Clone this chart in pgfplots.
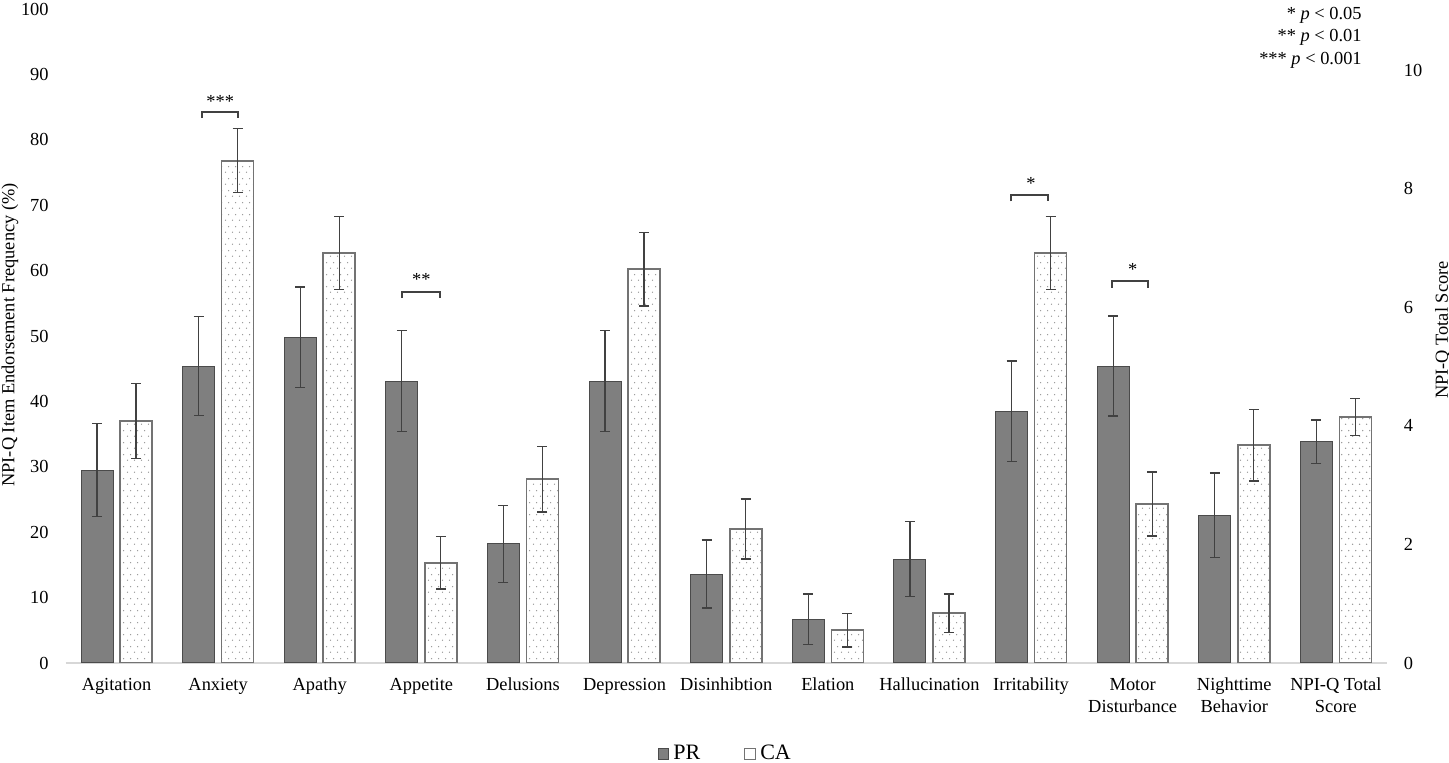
\documentclass[border=0pt]{standalone}
\usepackage{fontspec}
\setmainfont{Liberation Serif}
\usepackage{pgfplots}
\usepackage{pgfplotstable}
\pgfplotsset{compat=1.18}
\usetikzlibrary{patterns.meta}

\definecolor{prfill}{RGB}{127,127,127}
\definecolor{prdraw}{RGB}{75,75,75}
\definecolor{cadraw}{RGB}{115,115,115}
\definecolor{errc}{RGB}{65,65,65}
\definecolor{axisgray}{RGB}{215,215,215}

\tikzdeclarepattern{
  name=sparsedots,
  type=uncolored,
  bounding box={(0,0) and (3.5pt,6pt)},
  tile size={(3.5pt,6pt)},
  code={
    \fill (0.9pt,1.5pt) circle (0.38pt);
    \fill (2.65pt,4.5pt) circle (0.38pt);
  }
}

% item endorsement (%), symmetric error
\pgfplotstableread{
x  pr   prerr  ca   caerr
0  29.5 7.1    37.0 5.7
1  45.4 7.6    76.8 4.9
2  49.8 7.7    62.7 5.6
3  43.1 7.7    15.3 4.0
4  18.2 5.9    28.1 5.0
5  43.1 7.7    60.2 5.6
6  13.6 5.2    20.5 4.6
7  6.7  3.85   5.0  2.55
8  15.9 5.75   7.6  2.95
9  38.5 7.65   62.7 5.6
10 45.4 7.65   24.3 4.9
11 22.6 6.45   33.3 5.5
}\items

% total score, right axis
\pgfplotstableread{
x  pr   prerr  ca   caerr
12 3.73 0.37   4.15 0.31
}\total

\pgfplotsset{
  bothaxes/.style={
    at={(0,0)}, anchor=south west,
    scale only axis, width=660.5pt, height=327pt,
    xmin=-0.5, xmax=12.5, ymin=0,
    ybar, bar width=16pt,
    major tick length=0pt, tick style={draw=none},
    y axis line style={draw=none},
    /pgf/number format/assume math mode=true,
    error bars/y dir=both, error bars/y explicit,
    error bars/error bar style={draw=errc, line width=0.6pt},
    error bars/error mark=-,
    error bars/error mark options={rotate=90, draw=errc, line width=0.7pt, mark size=2.5pt},
  },
  prbar/.style={fill=prfill, draw=prdraw, line width=0.5pt, bar shift=-9.75pt},
  cabar/.style={pattern={sparsedots}, pattern color=gray!85, draw=cadraw, line width=0.8pt, bar shift=9.75pt},
}

\begin{document}
\begin{tikzpicture}[font=\fontsize{9.2}{11}\selectfont]
\useasboundingbox (-32.85pt,-50pt) rectangle (691.65pt,331.5pt);
\begin{axis}[
  bothaxes,
  ymax=100,
  axis x line*=bottom, axis y line*=left,
  x axis line style={draw=axisgray, line width=1pt, -},
  xtick={0,...,12},
  xticklabels={Agitation,Anxiety,Apathy,Appetite,Delusions,Depression,Disinhibtion,Elation,Hallucination,Irritability,Motor\\Disturbance,Nighttime\\Behavior,NPI-Q Total\\Score},
  xticklabel style={align=center, yshift=-4pt},
  ytick={0,10,...,100},
  yticklabel style={xshift=-5pt},
  ylabel={NPI-Q Item Endorsement Frequency (\%)},
  ylabel style={at={(axis description cs:-0.0422,0.5015)}, anchor=center},
  legend columns=2,
  legend style={at={(0.5,-0.139)}, anchor=center, draw=none, fill=none,
    font=\fontsize{11}{13}\selectfont,
    /tikz/every even column/.append style={column sep=20pt}},
]
\addplot[prbar, legend image code/.code={\draw[fill=prfill,draw=prdraw,line width=0.5pt] (0pt,-2.7pt) rectangle (5.4pt,2.7pt);}]
  table[x=x, y=pr, y error=prerr] {\items};
\addplot[cabar, legend image code/.code={\draw[fill=white,draw=cadraw,line width=0.6pt] (0pt,-2.7pt) rectangle (5.4pt,2.7pt);}]
  table[x=x, y=ca, y error=caerr] {\items};
\legend{PR,CA}

% significance brackets
\draw[errc, line width=1pt] (axis cs:0.84,83.3) -- (axis cs:0.84,84.3) -- (axis cs:1.2,84.3) -- (axis cs:1.2,83.3);
\node at (axis cs:1.02,85.9) {***};
\draw[errc, line width=1pt] (axis cs:2.81,55.8) -- (axis cs:2.81,56.8) -- (axis cs:3.18,56.8) -- (axis cs:3.18,55.8);
\node at (axis cs:3,58.6) {**};
\draw[errc, line width=1pt] (axis cs:8.8,70.6) -- (axis cs:8.8,71.6) -- (axis cs:9.17,71.6) -- (axis cs:9.17,70.6);
\node at (axis cs:9,73.3) {*};
\draw[errc, line width=1pt] (axis cs:9.8,57.4) -- (axis cs:9.8,58.4) -- (axis cs:10.15,58.4) -- (axis cs:10.15,57.4);
\node at (axis cs:10,60.1) {*};
\end{axis}

\begin{axis}[
  bothaxes,
  ymax=11.03,
  axis x line=none, axis y line*=right,
  ytick={0,2,...,10},
  yticklabel style={xshift=5pt},
  ylabel={NPI-Q Total Score},
  ylabel style={at={(axis description cs:1.0426,0.509)}, anchor=center},
]
\addplot[prbar] table[x=x, y=pr, y error=prerr] {\total};
\addplot[cabar] table[x=x, y=ca, y error=caerr] {\total};
\end{axis}

\node[anchor=east] at (651.5pt,324pt) {* \textit{p} < 0.05};
\node[anchor=east] at (651.5pt,312.75pt) {** \textit{p} < 0.01};
\node[anchor=east] at (651.5pt,301.5pt) {*** \textit{p} < 0.001};
\end{tikzpicture}
\end{document}
